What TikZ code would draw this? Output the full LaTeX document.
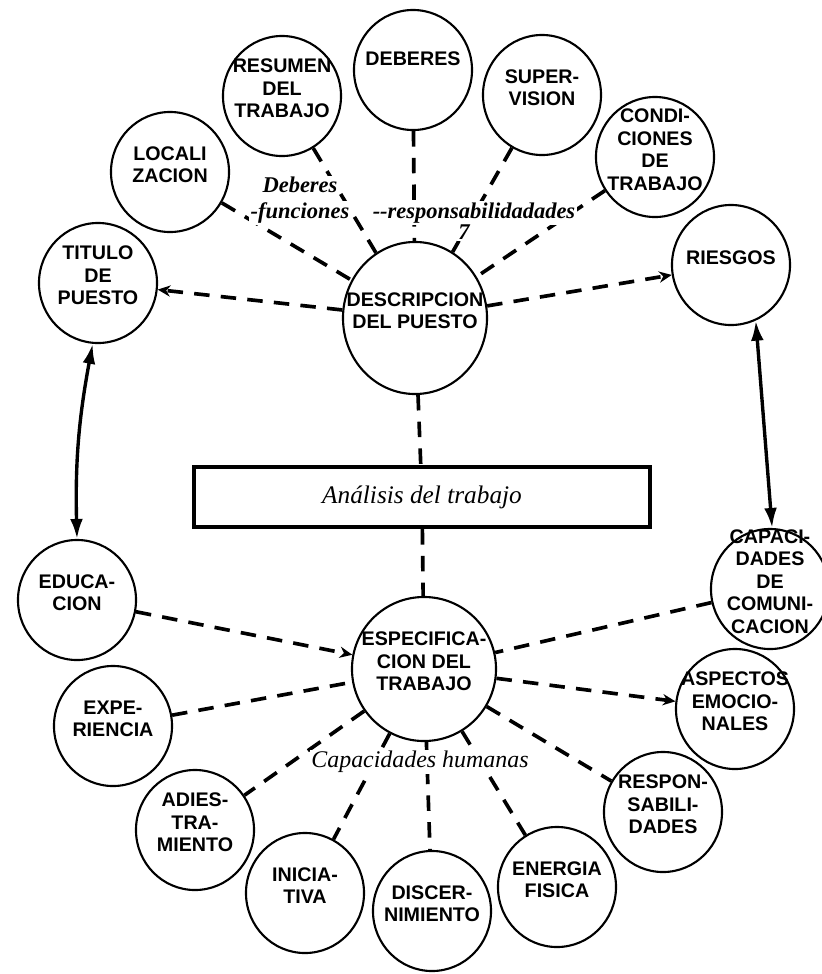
\documentclass[tikz,border=0pt]{standalone}
\usepackage{fontspec}
\setmainfont{Liberation Serif}
\setsansfont{Liberation Sans}
\usepackage{tikz}
\usetikzlibrary{arrows.meta,shapes.geometric}
\newcommand{\rotulo}[1]{\smash{\makebox[0pt]{\begin{tabular}{@{}c@{}}#1\end{tabular}}}}

\begin{document}
\begin{tikzpicture}[
  x=0.025cm, y=-0.025cm,
  circulo/.style={ellipse, draw, line width=1.5pt, inner sep=0pt,
                  minimum width=2.95cm, minimum height=3.0cm,
                  font=\sffamily\bfseries\fontsize{14}{16}\selectfont},
  central/.style={circulo, minimum width=3.6cm, minimum height=3.8cm},
  caixa/.style={rectangle, draw, line width=3pt, minimum width=11.4cm,
                minimum height=1.5cm, font=\itshape\fontsize{18}{20}\selectfont},
  etiqueta/.style={fill=white, inner sep=1pt,
                   font=\bfseries\itshape\fontsize{16}{18}\selectfont},
  trazo/.style={line width=2.6pt, dash pattern=on 11pt off 8pt},
  ponta/.style={-{Stealth[length=9pt,width=8pt]}},
  doble/.style={{Latex[length=5mm,width=3.2mm]}-{Latex[length=5mm,width=3.2mm]}, line width=2.4pt}
]
  \useasboundingbox (0,0) rectangle (822,974);

  \node[central] (descripcion) at (415,318) {\rotulo{DESCRIPCION\\DEL PUESTO}};
  \node[circulo] (resumen) at (282,96) {\rotulo{RESUMEN\\DEL\\TRABAJO}};
  \node[circulo] (deberes) at (413,70) {\rotulo{DEBERES\\[5pt]}};
  \node[circulo] (supervision) at (542,95) {\rotulo{SUPER-\\VISION}};
  \node[circulo] (condiciones) at (655,157) {\rotulo{CONDI-\\CIONES\\DE\\TRABAJO}};
  \node[circulo] (localizacion) at (170,172) {\rotulo{LOCALI\\ZACION}};
  \node[circulo] (titulo) at (98,283) {\rotulo{TITULO\\DE\\PUESTO}};
  \node[circulo] (riesgos) at (731,265) {\rotulo{RIESGOS}};

  \node[caixa] (analisis) at (422,497) {Análisis del trabajo};

  \node[central, minimum height=3.6cm] (especificacion) at (424,669) {\rotulo{ESPECIFICA-\\CION DEL\\TRABAJO}};
  \node[circulo] (capacidades) at (770,589) {\rotulo{CAPACI-\\DADES\\DE\\COMUNI-\\CACION}};
  \node[circulo] (educacion) at (77,600) {\rotulo{EDUCA-\\CION}};
  \node[circulo] (experiencia) at (113,726) {\rotulo{EXPE-\\RIENCIA}};
  \node[circulo] (aspectos) at (735,709) {\rotulo{ASPECTOS\\EMOCIO-\\NALES}};
  \node[circulo] (adiestramiento) at (195,830) {\rotulo{ADIES-\\TRA-\\MIENTO}};
  \node[circulo] (responsabilidades) at (663,812) {\rotulo{RESPON-\\SABILI-\\DADES}};
  \node[circulo] (iniciativa) at (305,893) {\rotulo{INICIA-\\TIVA}};
  \node[circulo] (discernimiento) at (432,911) {\rotulo{DISCER-\\NIMIENTO}};
  \node[circulo] (energia) at (557,887) {\rotulo{ENERGIA\\FISICA}};

  \draw[trazo, ponta] (descripcion) -- (titulo);
  \draw[trazo, ponta] (descripcion) -- (riesgos);
  \draw[trazo] (localizacion) -- (descripcion);
  \draw[trazo] (resumen) -- (descripcion);
  \draw[trazo] (deberes) -- (descripcion);
  \draw[trazo] (supervision) -- (descripcion);
  \draw[trazo] (condiciones) -- (descripcion);
  \draw[trazo] (descripcion) -- (analisis);
  \draw[trazo] (analisis) -- (especificacion);

  \draw[trazo, ponta] (educacion) -- (especificacion);
  \draw[trazo] (capacidades) -- (especificacion);
  \draw[trazo] (experiencia) -- (especificacion);
  \draw[trazo, ponta] (especificacion) -- (aspectos);
  \draw[trazo] (especificacion) -- (adiestramiento);
  \draw[trazo] (especificacion) -- (iniciativa);
  \draw[trazo] (especificacion) -- (discernimiento);
  \draw[trazo] (especificacion) -- (energia);
  \draw[trazo] (especificacion) -- (responsabilidades);

  \draw[doble] (titulo.265) to[bend right=6] (educacion.90);
  \draw[doble] (riesgos.-66) -- (capacidades.88);

  \node[etiqueta] (deb) at (300,185) {Deberes};
  \node[etiqueta] (fun) at (300,213) {-funciones};
  \node[etiqueta] (resp) at (474,213) {-{}-responsabilidadades};
  \node[etiqueta] (siete) at (464,232) {7};
  \node[etiqueta, font=\itshape\fontsize{17}{19}\selectfont] (caphum) at (420,762) {Capacidades humanas};
\end{tikzpicture}
\end{document}
